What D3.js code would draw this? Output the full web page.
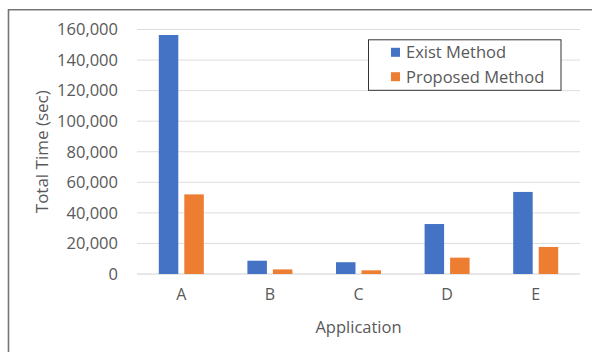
<!DOCTYPE html>
<html><head><meta charset="utf-8">
<script src="https://cdn.jsdelivr.net/npm/d3@7"></script>
<style>body{margin:0;background:#fff}svg{display:block}text{font-family:"Open Sans","Noto Sans",sans-serif;fill:#595959}</style>
</head><body><svg id="c" width="592" height="352"></svg>
<script>
const categories = ["A","B","C","D","E"];
const seriesNames = ["Exist Method","Proposed Method"];
const existValues = [156400, 8700, 7700, 32700, 53700];
const proposedValues = [52100, 3000, 2400, 10700, 17700];
const yTicks = [0,20000,40000,60000,80000,100000,120000,140000,160000];
const colors = ["#4472C4","#ED7D31"];

const svg = d3.select("#c");
const m = {l:137, r:580, t:29.5, b:274};
svg.append("path").attr("d","M8.5,352 V9.8 H592").attr("fill","none").attr("stroke","#767676").attr("stroke-width",1.6);

const x = d3.scaleBand().domain(categories).range([m.l,m.r]);
const y = d3.scaleLinear().domain([0,160000]).range([m.b,m.t]);

svg.append("g").selectAll("line").data(yTicks).join("line")
  .attr("x1",m.l).attr("x2",m.r).attr("y1",d=>y(d)).attr("y2",d=>y(d))
  .attr("stroke",d=>d===0?"#d0d0d0":"#dedede").attr("stroke-width",1);

const fmt = d3.format(",");
const ya = svg.append("g").attr("transform",`translate(${m.l},0)`)
  .call(d3.axisLeft(y).tickValues(yTicks).tickFormat(fmt).tickSize(0).tickPadding(19));
ya.select(".domain").remove();
ya.selectAll("text").style("font-size","16.5px").style("fill","#595959").style("font-family","'Open Sans'");

const xa = svg.append("g").attr("transform",`translate(0,${m.b})`)
  .call(d3.axisBottom(x).tickSize(0).tickPadding(15));
xa.select(".domain").remove();
xa.selectAll("text").style("font-size","16px").style("fill","#595959").style("font-family","'Open Sans'");

const barW = 19.5, gap = 6;
const data = categories.map((c,i)=>({c, vals:[existValues[i], proposedValues[i]]}));
data.forEach(d=>{
  d.vals.forEach((v,k)=>{
    const cx = x(d.c) + x.bandwidth()/2;
    const x0 = k===0 ? cx - gap/2 - barW : cx + gap/2;
    svg.append("rect").attr("x",x0).attr("width",barW)
      .attr("y",y(v)).attr("height",y(0)-y(v)).attr("fill",colors[k]);
  });
});

svg.append("text").attr("transform",`translate(48,${(m.t+m.b)/2}) rotate(-90)`)
  .attr("text-anchor","middle").style("font-size","17px").text("Total Time (sec)");
svg.append("text").attr("x",(m.l+m.r)/2).attr("y",332.5).attr("text-anchor","middle")
  .style("font-size","16.5px").text("Application");

const lg = svg.append("g");
lg.append("rect").attr("x",368.5).attr("y",39.8).attr("width",192.5).attr("height",50.5)
  .attr("fill","#fff").attr("stroke","#333").attr("stroke-width",1);
seriesNames.forEach((s,i)=>{
  const cy = 52.3 + i*24.4;
  lg.append("rect").attr("x",391).attr("y",cy-4.5).attr("width",9).attr("height",9).attr("fill",colors[i]);
  lg.append("text").attr("x",406).attr("y",cy+5.8).style("font-size","16.5px").text(s);
});
</script></body></html>
